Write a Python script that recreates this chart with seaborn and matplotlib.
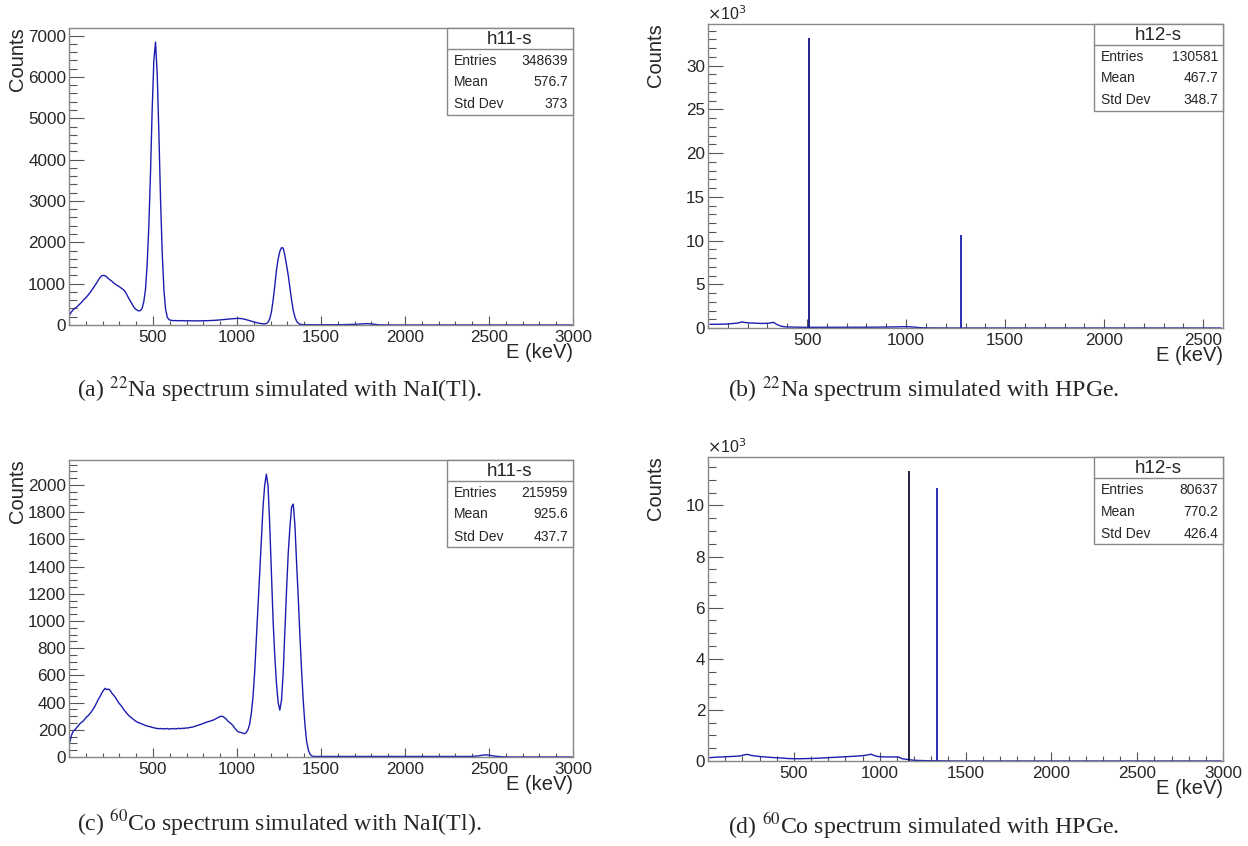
import numpy as np
import pandas as pd
import matplotlib
matplotlib.use('Agg')
import matplotlib.pyplot as plt
import seaborn as sns
from matplotlib.patches import Rectangle
from matplotlib.lines import Line2D
from matplotlib.ticker import MultipleLocator, FuncFormatter

# ---------------- DATA ----------------
# NaI(Tl) 22Na spectrum, counts per 10 keV bin starting at 0 keV
nai_na_width = 10
nai_na_counts = [
    250, 320, 370, 400, 430, 470, 510, 550, 600, 640,
    680, 730, 780, 840, 900, 960, 1020, 1090, 1150, 1190,
    1200, 1190, 1160, 1120, 1090, 1060, 1020, 990, 960, 940,
    910, 880, 850, 800, 730, 650, 580, 510, 440, 390,
    360, 340, 350, 400, 560, 850, 1450, 2370, 3660, 5190,
    6400, 6840, 6070, 4630, 3020, 1730, 850, 380, 190, 130,
    115, 110, 105, 108, 104, 106, 102, 105, 103, 100,
    104, 101, 100, 103, 99, 101, 100, 102, 100, 104,
    102, 105, 103, 107, 108, 110, 112, 115, 118, 122,
    125, 130, 135, 138, 142, 148, 150, 152, 155, 158,
    160, 158, 155, 150, 140, 130, 118, 105, 92, 80,
    68, 58, 48, 40, 33, 28, 27, 35, 70, 150,
    320, 600, 950, 1330, 1600, 1780, 1870, 1860, 1680, 1450,
    1200, 900, 600, 350, 190, 90, 40, 20, 12, 8,
    7, 6, 6, 5, 5, 5, 5, 5, 5, 5,
    5, 5, 5, 6, 6, 6, 6, 6, 6, 7,
    7, 7, 8, 8, 9, 10, 11, 12, 14, 15,
    15, 18, 22, 26, 28, 30, 30, 32, 30, 28,
    24, 18, 12, 8, 5, 3, 2, 1, 1, 0,
] + [0] * 110

# NaI(Tl) 60Co spectrum, counts per 10 keV bin starting at 0 keV
nai_co_width = 10
nai_co_counts = [
    110, 160, 190, 200, 215, 230, 245, 255, 265, 280,
    295, 305, 320, 335, 355, 375, 400, 425, 445, 470,
    490, 505, 495, 500, 490, 470, 455, 440, 420, 400,
    385, 370, 350, 335, 320, 305, 295, 285, 275, 265,
    258, 252, 248, 242, 238, 232, 228, 225, 222, 218,
    215, 212, 210, 208, 210, 207, 209, 206, 210, 205,
    208, 207, 210, 206, 209, 211, 208, 212, 210, 214,
    213, 216, 218, 220, 224, 228, 232, 236, 240, 245,
    250, 255, 258, 262, 266, 270, 275, 282, 288, 295,
    300, 298, 290, 280, 265, 255, 245, 232, 215, 200,
    188, 182, 180, 175, 172, 180, 200, 240, 320, 440,
    620, 860, 1100, 1350, 1600, 1840, 2000, 2080, 1990, 1700,
    1360, 1000, 740, 540, 400, 345, 420, 620, 920, 1230,
    1500, 1690, 1840, 1860, 1700, 1420, 1160, 880, 620, 400,
    230, 110, 50, 20, 8, 5,
] + [4] * 94 + [
    5, 6, 7, 8, 10, 12, 14, 15, 15, 14,
    12, 10, 8, 6, 5, 4, 3, 2, 1, 1,
] + [0] * 40

# HPGe 22Na spectrum: continuum per 20 keV bin + photopeak lines
hpge_na_width = 20
hpge_na_continuum = [
    420, 420, 430, 440, 450, 480, 520, 560, 690, 620,
    580, 560, 540, 520, 530, 560, 650, 380, 200, 130,
    110, 100, 90, 85, 80, 80, 80, 78, 80, 76,
    78, 80, 77, 79, 80, 78, 82, 80, 84, 85,
    88, 90, 95, 100, 105, 110, 115, 125, 140, 150,
    145, 120, 80, 40, 20, 10, 6, 5,
] + [0] * 72
hpge_na_peak_E = [511, 1275]
hpge_na_peak_counts = [33100, 10600]

# HPGe 60Co spectrum: continuum per 20 keV bin + photopeak lines
hpge_co_width = 20
hpge_co_continuum = [
    130, 140, 150, 155, 160, 170, 175, 180, 190, 200,
    240, 260, 220, 200, 185, 170, 160, 150, 140, 130,
    125, 115, 105, 95, 92, 90, 88, 90, 92, 95,
    100, 105, 112, 120, 128, 135, 140, 148, 155, 162,
    170, 178, 185, 195, 205, 215, 240, 265, 210, 175,
    165, 160, 158, 160, 160, 155, 90, 70, 55, 35,
    25, 20, 15, 12, 10, 8, 5,
] + [0] * 83
hpge_co_peak_E = [1173, 1332]
hpge_co_peak_counts = [11330, 10670]

stats_a = ("h11-s", "348639", "576.7", "373")
stats_b = ("h12-s", "130581", "467.7", "348.7")
stats_c = ("h11-s", "215959", "925.6", "437.7")
stats_d = ("h12-s", "80637", "770.2", "426.4")

captions = [
    r"(a) $^{22}$Na spectrum simulated with NaI(Tl).",
    r"(b) $^{22}$Na spectrum simulated with HPGe.",
    r"(c) $^{60}$Co spectrum simulated with NaI(Tl).",
    r"(d) $^{60}$Co spectrum simulated with HPGe.",
]

# ---------------- STYLE ----------------
sns.set_style('white')
plt.rcParams['font.family'] = ['Liberation Sans', 'DejaVu Sans']
plt.rcParams['mathtext.fontset'] = 'stix'

LINE = '#1c1cb0'
FRAME = '#888888'
TICKC = '#555555'

W, H = 1248, 846
fig = plt.figure(figsize=(W / 100, H / 100), dpi=100)


def fx(px):
    return px / W


def fy(py):
    return 1 - py / H


def add_axes_px(l, t, r, b):
    return fig.add_axes([fx(l), fy(b), (r - l) / W, (b - t) / H])


def draw_hist(ax, values, width, color):
    n = len(values)
    df = pd.DataFrame({'E': np.arange(n) * width + width / 2.0,
                       'w': np.asarray(values, dtype=float)})
    sns.histplot(data=df, x='E', weights='w', binwidth=width, binrange=(0, n * width),
                 element='poly', fill=False, color=color, linewidth=1.0, ax=ax)


def style_axes(ax, rect, xmax, ymax, ymajor, yminor, scale_k=False):
    l, t, r, b = rect
    ax.set_xlim(0, xmax)
    ax.set_ylim(0, ymax)
    ax.set_xlabel('')
    ax.set_ylabel('')
    ax.xaxis.set_major_locator(MultipleLocator(500))
    ax.xaxis.set_minor_locator(MultipleLocator(100))
    ax.yaxis.set_major_locator(MultipleLocator(ymajor))
    ax.yaxis.set_minor_locator(MultipleLocator(yminor))
    ax.xaxis.set_major_formatter(FuncFormatter(lambda v, p: '' if v == 0 else f'{int(round(v))}'))
    if scale_k:
        ax.yaxis.set_major_formatter(FuncFormatter(lambda v, p: f'{int(round(v / 1000))}'))
    else:
        ax.yaxis.set_major_formatter(FuncFormatter(lambda v, p: f'{int(round(v))}'))
    wpx, hpx = r - l, b - t
    ylen = 0.03 * wpx * 0.72
    xlen = 0.03 * hpx * 0.72
    ax.tick_params(axis='y', which='major', direction='in', length=ylen, width=0.8,
                   color=TICKC, labelsize=12.3, pad=2, left=True)
    ax.tick_params(axis='y', which='minor', direction='in', length=ylen / 2, width=0.8,
                   color=TICKC, left=True)
    ax.tick_params(axis='x', which='major', direction='in', length=xlen, width=0.8,
                   color=TICKC, labelsize=12.3, pad=3.5, bottom=True)
    ax.tick_params(axis='x', which='minor', direction='in', length=xlen / 2, width=0.8,
                   color=TICKC, bottom=True)
    for s in ax.spines.values():
        s.set_color(FRAME)
        s.set_linewidth(1.0)
    ax.set_facecolor('white')
    fig.text(fx(l - 52), fy(t - 1), 'Counts', rotation=90, ha='center', va='top', fontsize=14.5)
    fig.text(fx(r), fy(b + 18), 'E (keV)', ha='right', va='top', fontsize=14.5)
    if scale_k:
        fig.text(fx(l - 1), fy(t - 1), r'$\times$10$^{3}$', ha='left', va='bottom',
                 fontsize=11.5, math_fontfamily='dejavusans')


def stats_box(rect, stats, bw):
    l, t, r, b = rect
    name, ent, mean, std = stats
    bl, bt, br, bb = r - bw, t, r, t + 87
    fig.add_artist(Rectangle((fx(bl), fy(bb)), (br - bl) / W, (bb - bt) / H,
                             transform=fig.transFigure, facecolor='white',
                             edgecolor=FRAME, linewidth=1.0, zorder=5))
    fig.add_artist(Line2D([fx(bl), fx(br)], [fy(bt + 21.5), fy(bt + 21.5)],
                          transform=fig.transFigure, color=FRAME, linewidth=1.0, zorder=6))
    fig.text(fx((bl + br) / 2), fy(bt + 11), name, ha='center', va='center',
             fontsize=13.5, zorder=7)
    for dy, lab, val in [(33, 'Entries', ent), (54.5, 'Mean', mean), (76.5, 'Std Dev', std)]:
        fig.text(fx(bl + 7), fy(bt + dy), lab, ha='left', va='center', fontsize=10, zorder=7)
        fig.text(fx(br - 5), fy(bt + dy), val, ha='right', va='center', fontsize=10, zorder=7)


rect_a = (69, 28, 573, 325)
rect_b = (708, 24, 1223, 328)
rect_c = (69, 460, 573, 757)
rect_d = (708, 457, 1223, 761)

# (a)
ax = add_axes_px(*rect_a)
draw_hist(ax, nai_na_counts, nai_na_width, LINE)
style_axes(ax, rect_a, 3000, 1.05 * max(nai_na_counts), 1000, 200)
stats_box(rect_a, stats_a, 126)

# (b)
ax = add_axes_px(*rect_b)
draw_hist(ax, hpge_na_continuum, hpge_na_width, LINE)
ax.vlines(hpge_na_peak_E, 0, hpge_na_peak_counts, colors=['#101088', '#1c1cb0'], linewidth=1.3)
style_axes(ax, rect_b, 2600, 1.05 * max(hpge_na_peak_counts), 5000, 1000, scale_k=True)
stats_box(rect_b, stats_b, 129)

# (c)
ax = add_axes_px(*rect_c)
draw_hist(ax, nai_co_counts, nai_co_width, LINE)
style_axes(ax, rect_c, 3000, 1.05 * max(nai_co_counts), 200, 50)
stats_box(rect_c, stats_c, 126)

# (d)
ax = add_axes_px(*rect_d)
draw_hist(ax, hpge_co_continuum, hpge_co_width, LINE)
ax.vlines(hpge_co_peak_E, 0, hpge_co_peak_counts, colors=['#111133', '#1c1cb0'], linewidth=1.3)
style_axes(ax, rect_d, 3000, 1.05 * max(hpge_co_peak_counts), 2000, 500, scale_k=True)
stats_box(rect_d, stats_d, 129)

# captions (left-anchored)
cap_pos = [(77, 390), (728, 390), (77, 823), (728, 826)]
for (cx, cy), txt in zip(cap_pos, captions):
    fig.text(fx(cx), fy(cy), txt, ha='left', va='center', fontsize=17.2,
             family=['Liberation Serif', 'DejaVu Serif'])

fig.savefig('out.png', dpi=100, facecolor='white')
